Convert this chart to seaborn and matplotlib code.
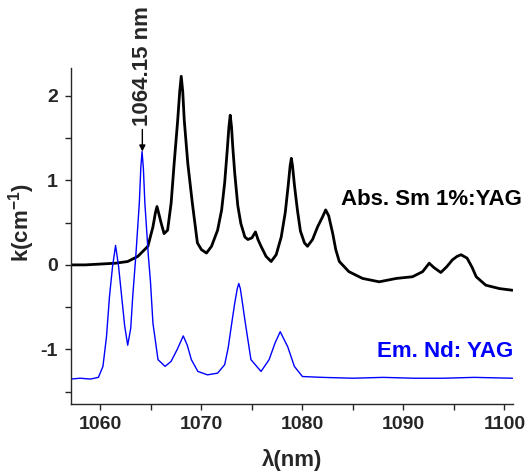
import matplotlib
matplotlib.use("Agg")
import matplotlib.pyplot as plt
import seaborn as sns
import pandas as pd
from matplotlib.ticker import MultipleLocator

# absorption spectrum, Sm 1%:YAG
abs_nm = [1057.05, 1058.5, 1060.0, 1061.5, 1062.7, 1063.7, 1064.7, 1065.2, 1065.45, 1065.6,
          1065.75, 1066.0, 1066.3, 1066.65, 1067.0, 1067.3, 1067.65, 1067.85, 1068.0, 1068.15,
          1068.3, 1068.65, 1069.1, 1069.6, 1070.0, 1070.5, 1071.0, 1071.6, 1072.0, 1072.3,
          1072.55, 1072.72, 1072.85, 1072.98, 1073.1, 1073.3, 1073.6, 1073.9, 1074.3, 1074.6,
          1075.0, 1075.35, 1075.6, 1075.9, 1076.4, 1076.9, 1077.4, 1077.9, 1078.3, 1078.6,
          1078.78, 1078.9, 1079.02, 1079.2, 1079.5, 1079.8, 1080.2, 1080.5, 1081.0, 1081.5,
          1082.0, 1082.3, 1082.6, 1083.0, 1083.3, 1083.65, 1084.6, 1085.95, 1087.6, 1089.3,
          1090.9, 1091.9, 1092.55, 1093.0, 1093.7, 1094.3, 1094.85, 1095.3, 1095.7, 1096.3,
          1096.8, 1097.2, 1098.15, 1099.5, 1100.8]
abs_k = [0.0, 0.0, 0.01, 0.02, 0.04, 0.10, 0.22, 0.45, 0.62, 0.69,
         0.62, 0.50, 0.37, 0.41, 0.73, 1.20, 1.71, 2.05, 2.23, 2.05,
         1.71, 1.20, 0.73, 0.26, 0.18, 0.14, 0.22, 0.41, 0.65, 0.97,
         1.35, 1.63, 1.77, 1.63, 1.40, 1.08, 0.70, 0.49, 0.33, 0.30,
         0.32, 0.39, 0.30, 0.22, 0.10, 0.04, 0.12, 0.33, 0.62, 0.95,
         1.17, 1.26, 1.17, 0.95, 0.65, 0.40, 0.26, 0.22, 0.30, 0.45,
         0.57, 0.65, 0.58, 0.37, 0.18, 0.04, -0.08, -0.16, -0.20, -0.16,
         -0.14, -0.08, 0.02, -0.03, -0.09, -0.02, 0.06, 0.10, 0.12, 0.08,
         -0.03, -0.14, -0.24, -0.28, -0.30]

# emission spectrum, Nd:YAG (offset, arbitrary units)
em_nm = [1057.05, 1058.0, 1059.0, 1059.8, 1060.25, 1060.6, 1060.9, 1061.2, 1061.5, 1061.8,
         1062.1, 1062.4, 1062.7, 1063.0, 1063.2, 1063.5, 1063.85, 1064.0, 1064.12, 1064.25,
         1064.4, 1064.75, 1064.95, 1065.2, 1065.7, 1066.4, 1067.0, 1067.6, 1068.2, 1068.6,
         1069.0, 1069.65, 1070.6, 1071.6, 1072.3, 1072.65, 1072.95, 1073.3, 1073.55, 1073.7,
         1073.85, 1074.0, 1074.3, 1074.9, 1075.9, 1076.7, 1077.3, 1077.8, 1078.55, 1079.2,
         1080.0, 1082.0, 1085.0, 1088.0, 1091.0, 1094.0, 1097.0, 1100.8]
em_k = [-1.35, -1.34, -1.35, -1.33, -1.20, -0.85, -0.37, -0.02, 0.23, -0.02,
        -0.37, -0.72, -0.95, -0.75, -0.37, 0.10, 0.73, 1.15, 1.34, 1.15,
        0.73, 0.10, -0.19, -0.69, -1.12, -1.20, -1.14, -1.00, -0.84, -0.95,
        -1.12, -1.26, -1.30, -1.28, -1.18, -0.98, -0.73, -0.45, -0.28, -0.22,
        -0.28, -0.40, -0.65, -1.12, -1.26, -1.12, -0.92, -0.79, -0.97, -1.20,
        -1.32, -1.33, -1.34, -1.33, -1.34, -1.34, -1.33, -1.34]

peak_nm = 1064.15
peak_k = 1.34

sns.set_style("ticks")
plt.rcParams["font.family"] = ["Liberation Sans", "DejaVu Sans"]
plt.rcParams["font.weight"] = "bold"
plt.rcParams["axes.unicode_minus"] = False
plt.rcParams["mathtext.fontset"] = "custom"
plt.rcParams["mathtext.rm"] = "Liberation Sans:bold"
plt.rcParams["mathtext.it"] = "Liberation Sans:bold"
plt.rcParams["mathtext.bf"] = "Liberation Sans:bold"

fig = plt.figure(figsize=(5.31, 4.74), dpi=100)
ax = fig.add_axes([0.133, 0.148, 0.833, 0.708])

df_abs = pd.DataFrame({"nm": abs_nm, "k": abs_k})
df_em = pd.DataFrame({"nm": em_nm, "k": em_k})

sns.lineplot(data=df_abs, x="nm", y="k", color="black", linewidth=2.0,
             estimator=None, ax=ax)
sns.lineplot(data=df_em, x="nm", y="k", color="#0000ff", linewidth=1.0,
             estimator=None, ax=ax)

ax.set_xlim(1057.05, 1100.84)
ax.set_ylim(-1.643, 2.325)
ax.xaxis.set_major_locator(MultipleLocator(10))
ax.xaxis.set_minor_locator(MultipleLocator(5))
ax.yaxis.set_major_locator(MultipleLocator(1))
ax.yaxis.set_minor_locator(MultipleLocator(0.5))
ax.tick_params(which="both", direction="out", length=4, width=1, labelsize=14, pad=5)
for s in ["top", "right"]:
    ax.spines[s].set_visible(False)
for s in ["left", "bottom"]:
    ax.spines[s].set_linewidth(1)
for lab in ax.get_xticklabels() + ax.get_yticklabels():
    lab.set_fontweight("bold")

ax.set_xlabel("λ(nm)", fontsize=16, fontweight="bold")
ax.set_ylabel("k(cm$^{-1}$)", fontsize=16, fontweight="bold")
ax.xaxis.set_label_coords(0.5, -0.135)
ax.yaxis.set_label_coords(-0.075, 0.54)

ax.text(1083.8, 0.77, "Abs. Sm 1%:YAG", fontsize=16, fontweight="bold",
        color="black", va="center", ha="left", clip_on=False)
ax.text(1087.4, -1.02, "Em. Nd: YAG", fontsize=16, fontweight="bold",
        color="#0000ff", va="center", ha="left", clip_on=False)

ax.annotate("1064.15 nm", xy=(peak_nm, peak_k), xytext=(peak_nm, 1.64),
            rotation=90, ha="center", va="bottom", fontsize=16, fontweight="bold",
            annotation_clip=False,
            arrowprops=dict(arrowstyle="-|>", color="black", lw=1,
                            mutation_scale=9, shrinkA=0, shrinkB=0))

fig.savefig("out.png", dpi=100)
